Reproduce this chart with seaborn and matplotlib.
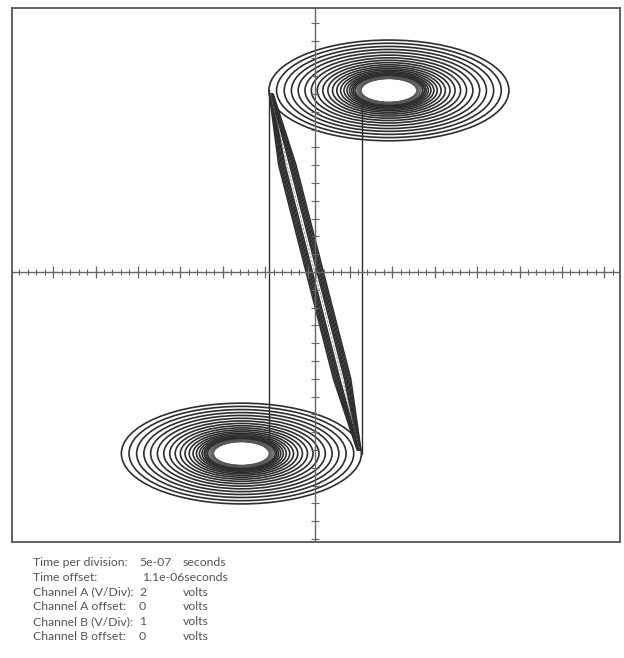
import numpy as np
import pandas as pd
import matplotlib
matplotlib.use("Agg")
import matplotlib.pyplot as plt
from matplotlib.patches import Circle
import seaborn as sns

# Pantalla del osciloscopio (modo X-Y): unidades de división
x_lim = (-7.15, 7.19)
y_lim = (-15.17, 14.83)

# Centros de las dos espirales (arriba derecha / abajo izquierda)
spiral_cx = [1.74, -1.74]
spiral_cy = [10.2, -10.2]

# Radios de los anillos (exterior -> interior)
ring_radii = [2.83, 2.65, 2.47, 2.30, 2.14, 1.98, 1.83, 1.69, 1.56, 1.44,
              1.33, 1.23, 1.14, 1.06, 0.99, 0.93, 0.88, 0.84, 0.80]
# Zona densa alrededor del hueco
fuzz_radii = [0.78, 0.76, 0.745, 0.73, 0.715, 0.70, 0.69, 0.68, 0.67, 0.66, 0.65]

# Líneas verticales de salto entre espirales
jump_x = [-1.08, 1.10]
jump_y_top = [10.2, 9.6]
jump_y_bot = [-9.6, -10.2]

# Haz diagonal: cada traza va de arriba-izquierda a abajo-derecha
diag_y = [10.0, 6.0, -6.0, -10.0]
diag_x_top = [-1.08, -1.07, -1.06, -1.05, -1.04, -1.03, -1.04, -1.03, -1.02, -1.01, -1.00, -0.99]
diag_x_hi = [-0.86, -0.83, -0.80, -0.77, -0.74, -0.71, -0.60, -0.57, -0.54, -0.51, -0.48, -0.45]
diag_x_lo = [0.43, 0.46, 0.49, 0.52, 0.55, 0.58, 0.69, 0.72, 0.75, 0.78, 0.81, 0.84]
diag_x_bot = [0.99, 1.00, 1.01, 1.02, 1.03, 1.04, 1.03, 1.04, 1.05, 1.06, 1.07, 1.08]
# Trazas finas en el centro del haz
thin_x_hi = [-0.66]
thin_x_lo = [0.64]

# Texto de configuración
info_labels = ["Time per division:", "Time offset:", "Channel A (V/Div):",
               "Channel A offset:", "Channel B (V/Div):", "Channel B offset:"]
info_values = ["5e-07", "1.1e-06seconds", "2", "0", "1", "0"]
info_units = ["seconds", "", "volts", "volts", "volts", "volts"]

sns.set_style("white")
plt.rcParams['font.family'] = ['Lato', 'DejaVu Sans']

ink = "#2e2e2e"

fig = plt.figure(figsize=(6.24, 6.58), dpi=100)
ax = fig.add_axes([12 / 624, 116 / 658, 608 / 624, 534 / 658])
ax.set_xlim(*x_lim)
ax.set_ylim(*y_lim)

# Espirales
for cx, cy in zip(spiral_cx, spiral_cy):
    for r in ring_radii:
        ax.add_patch(Circle((cx, cy), r, fill=False, ec=ink, lw=1.2))
    for r in fuzz_radii:
        ax.add_patch(Circle((cx, cy), r, fill=False, ec="#555555", lw=0.5))

# Saltos verticales
for x, y0, y1 in zip(jump_x, jump_y_top, jump_y_bot):
    seg = pd.DataFrame({"x": [x, x], "y": [y0, y1]})
    sns.lineplot(data=seg, x="x", y="y", sort=False, estimator=None,
                 color=ink, lw=1.0, ax=ax)

# Haz diagonal
for i in range(len(diag_x_top)):
    seg = pd.DataFrame({"x": [diag_x_top[i], diag_x_hi[i], diag_x_lo[i], diag_x_bot[i]],
                        "y": diag_y})
    sns.lineplot(data=seg, x="x", y="y", sort=False, estimator=None,
                 color=ink, lw=1.1, ax=ax)
for xh, xl in zip(thin_x_hi, thin_x_lo):
    seg = pd.DataFrame({"x": [-1.05, xh, xl, 1.05], "y": diag_y})
    sns.lineplot(data=seg, x="x", y="y", sort=False, estimator=None,
                 color="#777777", lw=0.5, ls=(0, (4, 2)), ax=ax)

# Ejes centrales con marcas
ax.axhline(0, color="#666666", lw=1.0)
ax.axvline(0, color="#666666", lw=1.0)
minor_x = np.arange(-7.18, 7.2, 0.2)
major_x = np.arange(-6.18, 7.2, 1.0)
ax.plot(minor_x, np.zeros_like(minor_x), ls="none", marker="|", ms=5, mew=0.8, color="#666666")
ax.plot(major_x, np.zeros_like(major_x), ls="none", marker="|", ms=8, mew=0.9, color="#666666")
ticks_y = np.array([v for v in range(-15, 15) if v != 0])
ax.plot(np.zeros_like(ticks_y), ticks_y, ls="none", marker="_", ms=6, mew=0.8, color="#666666")

ax.set_xticks([])
ax.set_yticks([])
ax.set_xlabel("")
ax.set_ylabel("")
for s in ax.spines.values():
    s.set_visible(True)
    s.set_color("#555555")
    s.set_linewidth(1.3)

# Bloque de texto inferior
for k, (lab, val, unit) in enumerate(zip(info_labels, info_values, info_units)):
    ypx = 563 + k * 14.6
    yf = 1 - ypx / 658
    fig.text(33 / 624, yf, lab, fontsize=8.8, color="#555555", va="center")
    xv = 142 if "seconds" in val else 139
    fig.text(xv / 624, yf, val, fontsize=8.8, color="#555555", va="center")
    if unit:
        fig.text(183 / 624, yf, unit, fontsize=8.8, color="#555555", va="center")

fig.savefig("out.png", dpi=100)
